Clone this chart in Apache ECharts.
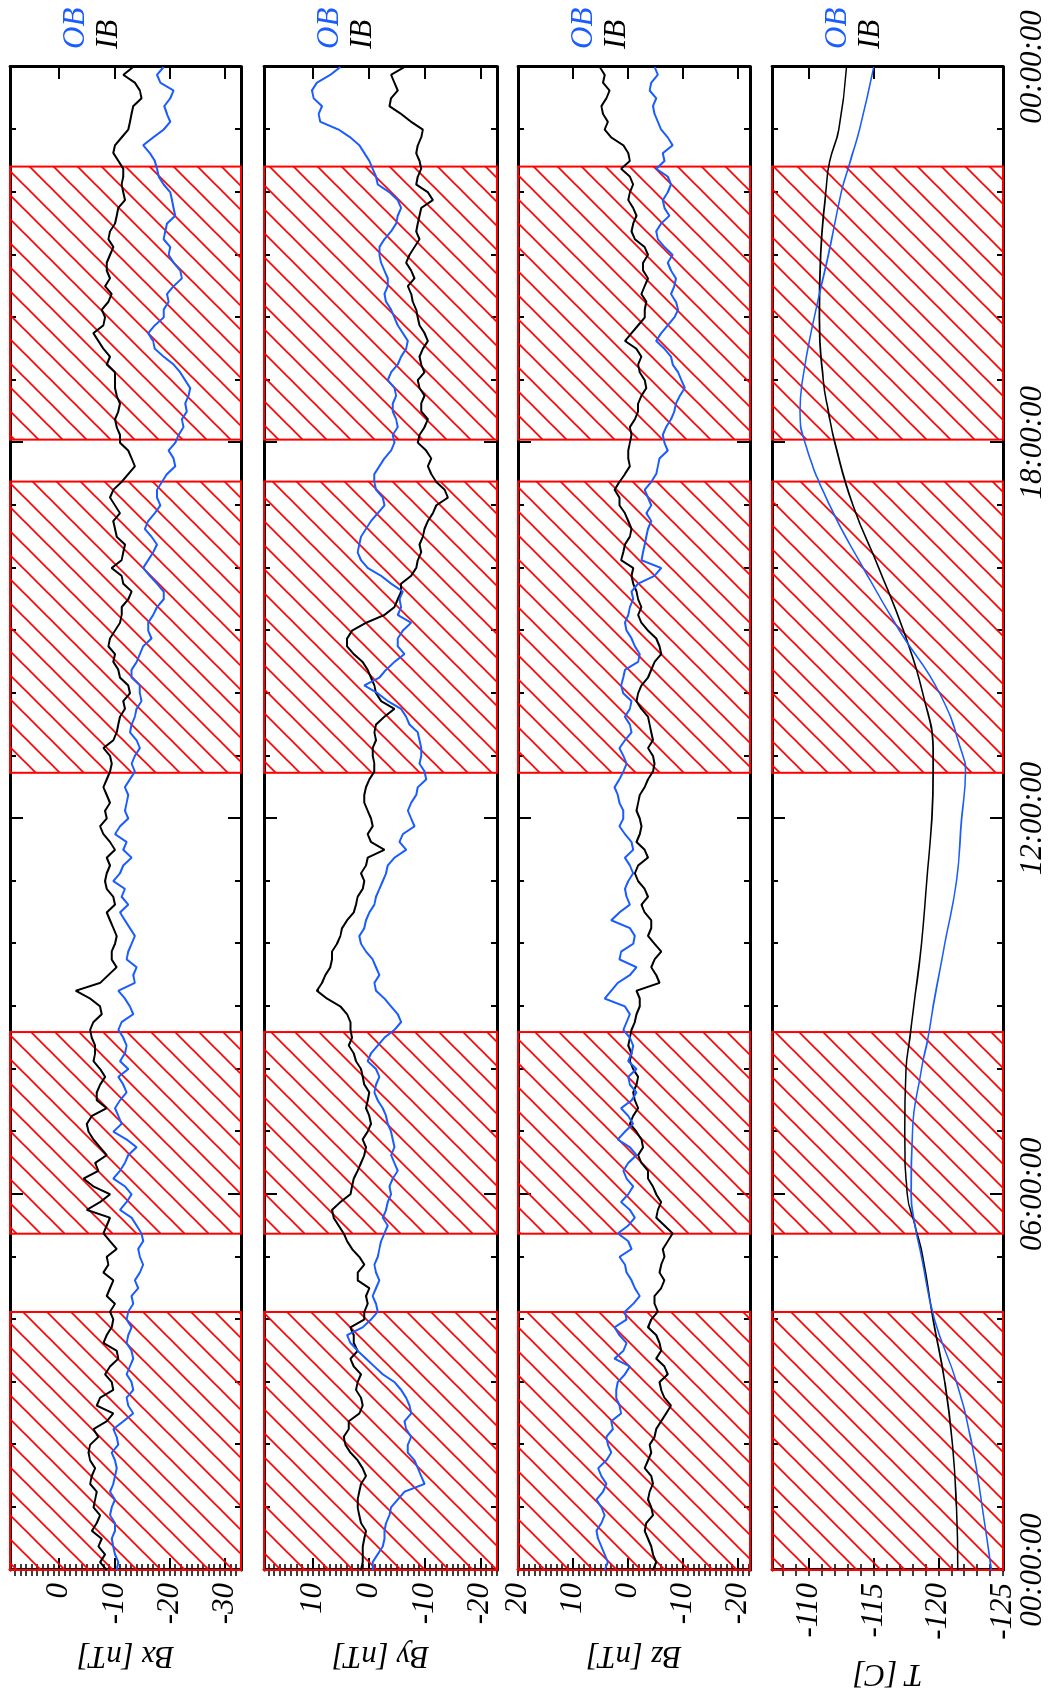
<!DOCTYPE html>
<html><head><meta charset="utf-8">
<script src="https://cdn.jsdelivr.net/npm/echarts@6/dist/echarts.min.js"></script>
<style>
html,body{margin:0;padding:0;width:1053px;height:1697px;overflow:hidden;background:#fff;}
#chart{position:absolute;left:0;top:0;width:1697px;height:1053px;transform-origin:0 0;transform:translateY(1697px) rotate(-90deg);background:#fff;}
</style></head><body><div id="chart"></div>
<script>
// ---------- DATA (time in hours) ----------
// main samples at 00:00, 00:15, ... 24:00 ; mid samples at 00:07:30, 00:22:30, ... 23:52:30
const sampleStepHours = 0.25;
const bxIB = [-8.6,-8.3,-7.7,-6.8,-6.2,-6.8,-5.9,-5.6,-5.6,-6.2,-9.8,-7.4,-9.5,-9.2,-10.4,-8.6,-9.8,-10.1,-9.2,-8.0,-8.6,-9.2,-8.6,-5.0,-9.2,-4.4,-6.5,-7.4,-5.3,-5.9,-6.8,-7.4,-7.4,
  -6.5,-5.9,-6.2,-7.4,-3.0,-8.9,-9.5,-10.1,-9.8,-8.6,-9.8,-8.3,-9.2,-10.1,-8.0,-8.6,-9.2,-8.0,-9.2,-9.2,-9.8,-10.7,-11.9,-12.8,-11.0,-9.8,-8.9,-10.1,-11.3,-12.5,-11.6,-9.5,
  -11.6,-10.4,-9.8,-10.1,-9.8,-12.5,-13.1,-11.0,-10.4,-10.7,-10.4,-10.1,-8.6,-8.0,-6.2,-8.3,-8.9,-8.3,-8.6,-9.2,-8.9,-10.1,-10.7,-11.6,-11.6,-10.7,-10.1,-12.5,-13.1,-14.9,-13.7,-13.4];
const bxIBmid = [-7.4,-7.1,-5.9,-7.4,-6.5,-5.6,-6.5,-5.3,-7.1,-8.6,-6.8,-9.8,-8.3,-10.7,-8.0,-9.5,-9.2,-8.6,-9.8,-8.9,-10.4,-8.0,-9.2,-7.4,-6.2,-7.1,-8.6,-6.2,-5.0,-8.6,-6.8,-8.3,
  -6.2,-6.5,-5.6,-7.7,-5.6,-7.4,-10.4,-9.5,-10.4,-9.2,-10.1,-8.6,-8.6,-8.6,-9.2,-7.4,-8.3,-8.6,-8.6,-9.5,-8.0,-10.4,-11.0,-11.6,-12.5,-10.7,-10.1,-9.2,-11.0,-11.3,-13.1,-11.3,
  -11.3,-11.9,-10.1,-11.0,-9.2,-11.3,-13.7,-12.5,-11.0,-10.1,-11.0,-10.1,-10.1,-9.2,-7.1,-8.0,-7.7,-9.5,-9.2,-8.6,-9.8,-9.2,-10.4,-11.9,-11.3,-11.6,-9.8,-11.3,-12.8,-13.4,-14.6,-11.6];
const bxOB = [-10.4,-10.1,-9.5,-10.1,-9.5,-9.2,-10.1,-10.1,-10.7,-9.8,-13.4,-12.2,-13.1,-12.8,-13.1,-12.5,-12.2,-13.4,-14.3,-14.6,-14.6,-15.2,-14.0,-11.0,-13.1,-9.8,-11.9,-14.0,-9.8,-10.7,-11.0,-11.6,-12.5,
  -11.9,-11.6,-11.3,-12.8,-10.7,-13.4,-12.2,-13.1,-12.8,-11.0,-11.3,-9.8,-11.6,-11.6,-10.1,-12.5,-12.2,-11.9,-13.7,-13.7,-14.0,-13.1,-14.0,-14.6,-13.1,-14.0,-15.2,-16.1,-17.0,-18.9,-17.7,-15.2,
  -17.0,-16.7,-16.1,-18.3,-17.7,-19.5,-20.7,-21.0,-22.5,-23.1,-23.4,-22.8,-20.7,-17.3,-16.1,-18.9,-19.8,-20.7,-21.9,-19.8,-18.9,-19.5,-20.7,-20.1,-18.0,-17.3,-15.2,-18.9,-19.5,-20.1,-18.3,-18.9];
const bxOBmid = [-10.7,-9.8,-10.1,-9.2,-10.1,-9.8,-10.4,-9.5,-10.4,-11.6,-12.5,-13.4,-12.2,-13.4,-12.2,-13.1,-12.5,-13.1,-13.7,-15.2,-14.3,-14.9,-13.1,-12.2,-11.9,-11.0,-12.5,-12.2,-11.3,-10.1,-12.2,-10.7,
  -11.0,-12.2,-10.7,-13.4,-11.9,-13.7,-14.0,-12.5,-13.7,-11.9,-12.5,-11.9,-11.0,-13.1,-12.2,-11.0,-11.9,-12.5,-12.8,-13.1,-14.6,-12.8,-13.7,-14.9,-14.6,-13.1,-14.6,-16.7,-16.1,-17.7,-18.9,-16.4,
  -16.1,-17.7,-15.5,-17.3,-17.7,-18.6,-21.0,-19.8,-21.6,-22.2,-22.8,-23.7,-21.9,-18.9,-17.0,-17.3,-18.9,-19.5,-22.2,-20.7,-20.1,-19.2,-21.0,-20.4,-18.9,-17.7,-16.4,-17.0,-20.1,-19.0,-20.7,-17.7];
const byIB = [1.4,1.1,0.8,1.4,2.0,1.7,0.5,2.0,4.2,3.6,1.7,1.4,2.0,2.7,2.0,2.7,0.8,0.2,-0.1,2.0,1.7,3.9,5.4,6.6,3.3,2.7,1.4,0.5,0.2,-0.1,0.2,0.8,1.4,
  2.7,3.0,3.3,5.1,9.3,7.8,6.6,5.7,4.8,2.7,2.0,0.8,0.5,-2.8,0.2,-0.4,0.8,0.5,-1.0,-0.7,-1.3,-1.3,-4.6,-1.3,-0.4,1.1,3.9,3.0,-2.8,-5.2,-5.8,-8.5,
  -9.4,-9.7,-10.6,-12.1,-13.6,-11.2,-11.2,-8.8,-10.0,-9.4,-10.0,-8.8,-9.4,-9.7,-10.0,-8.8,-7.9,-7.0,-7.6,-7.3,-9.1,-8.8,-9.4,-10.6,-8.8,-9.1,-8.8,-9.7,-5.8,-4.0,-4.6,-6.4];
const byIBmid = [1.1,1.1,0.5,1.7,2.0,1.4,1.1,3.3,4.5,3.6,1.1,2.3,1.4,3.3,2.7,3.3,0.8,0.5,2.0,0.8,3.0,4.5,6.3,5.1,3.0,2.0,0.8,1.1,-0.4,0.5,-0.1,1.1,
  2.3,3.6,3.3,3.9,7.5,8.4,6.9,6.6,5.1,3.9,2.3,1.1,1.4,0.2,-0.4,-0.7,0.2,0.8,-0.1,-1.0,-0.7,-1.0,-2.8,-2.2,-1.0,0.2,2.7,3.9,0.5,-4.6,-5.8,-7.6,
  -8.8,-9.1,-10.0,-11.5,-14.2,-12.1,-10.6,-10.3,-9.1,-10.6,-9.4,-9.1,-10.0,-9.1,-10.6,-9.1,-8.5,-7.6,-8.2,-6.7,-8.2,-8.5,-9.1,-11.5,-8.5,-9.4,-8.5,-9.4,-7.6,-3.7,-5.2,-4.0];
const byOB = [-0.7,-1.6,-2.8,-3.1,-4.0,-6.4,-9.4,-8.2,-7.0,-6.7,-7.6,-6.7,-4.6,-1.0,2.0,3.9,-0.4,-1.3,-1.3,-1.3,-1.6,-2.2,-3.4,-3.1,-4.0,-4.3,-4.6,-4.6,-4.0,-3.1,-1.6,-1.3,-1.3,
  -0.4,-2.8,-5.8,-4.0,-1.3,-1.9,-0.7,1.4,0.8,-0.1,-1.3,-2.5,-3.4,-6.7,-6.1,-7.6,-7.6,-8.8,-10.0,-9.4,-9.1,-7.3,-5.8,-1.6,-1.9,-4.6,-5.2,-6.1,-5.2,-5.5,-4.0,0.2,
  2.0,1.4,-0.4,-2.8,-1.3,-1.0,-2.8,-4.6,-5.2,-4.3,-4.9,-3.4,-5.2,-6.7,-6.1,-4.6,-3.1,-3.4,-2.8,-1.9,-2.8,-4.9,-5.8,-3.7,-1.3,-0.1,1.7,5.4,9.0,9.9,9.3,5.1];
const byOBmid = [-0.7,-2.5,-2.8,-3.7,-5.2,-10.0,-8.8,-7.0,-7.6,-6.4,-7.3,-5.8,-2.5,0.5,3.3,1.1,-1.6,-0.7,-1.9,-1.0,-1.9,-2.8,-2.5,-3.4,-3.7,-5.2,-4.0,-4.3,-3.4,-2.5,-1.0,-1.9,
  0.2,-1.6,-4.6,-5.2,-2.8,-1.0,-1.3,0.5,1.7,0.5,-1.0,-1.9,-3.1,-4.6,-5.5,-8.2,-7.0,-8.5,-10.3,-9.1,-9.4,-8.8,-6.7,-3.4,0.8,-3.1,-6.4,-5.2,-7.6,-5.8,-6.1,-2.2,
  1.4,1.7,0.5,-1.6,-2.5,-1.0,-1.9,-4.0,-4.3,-4.9,-4.3,-4.6,-4.0,-5.8,-7.0,-5.2,-4.0,-2.8,-3.4,-2.2,-1.9,-4.0,-5.2,-5.2,-1.6,-0.7,0.8,3.3,8.7,8.4,10.2,6.9];
const bzIB = [-4.6,-4.6,-3.7,-3.4,-4.3,-4.0,-4.3,-3.7,-4.0,-5.2,-7.0,-6.7,-5.8,-6.7,-6.1,-5.2,-4.3,-4.9,-6.1,-5.8,-6.7,-7.3,-6.7,-5.5,-5.2,-3.7,-2.5,-2.8,-1.6,-1.0,-1.3,-1.6,-1.0,
  -0.7,-0.4,-1.3,-2.2,-1.6,-5.2,-4.9,-4.9,-4.3,-3.1,-3.7,-1.9,-1.9,-3.1,-2.2,-2.2,-1.9,-3.1,-4.6,-4.6,-4.6,-4.0,-2.5,-1.9,-3.7,-4.9,-5.8,-3.7,-1.9,-1.9,-1.0,-1.0,
  0.8,-0.4,-0.1,1.5,2.4,0.5,-0.1,-0.4,-0.4,-1.9,-2.5,-3.1,-1.9,-1.6,-0.7,-3.1,-3.4,-3.1,-2.8,-3.7,-1.3,-1.0,-1.0,-0.4,-0.4,-0.4,0.8,4.2,4.5,3.9,4.5,5.1];
const bzIBmid = [-5.2,-4.3,-3.1,-4.6,-3.7,-4.6,-3.1,-4.3,-4.9,-6.1,-7.9,-6.1,-7.3,-5.2,-5.8,-3.7,-5.5,-4.9,-6.7,-6.1,-6.4,-8.2,-5.2,-6.1,-4.6,-3.7,-1.9,-2.5,-0.4,-1.9,-1.0,-1.9,
  -0.4,-0.1,-0.7,-1.6,-2.2,-5.8,-4.3,-6.1,-3.7,-4.3,-2.5,-3.1,-1.3,-3.7,-1.6,-2.5,-1.6,-2.2,-3.7,-4.9,-3.7,-4.3,-3.7,-1.6,-2.5,-4.3,-6.1,-5.2,-2.5,-2.5,-1.6,-0.7,
  1.2,0.5,-0.7,0.5,1.5,1.5,-0.4,-0.1,-0.7,-1.3,-1.9,-3.4,-2.2,-2.5,0.5,-1.9,-3.1,-2.5,-3.7,-2.8,-3.1,-0.7,-1.6,-0.1,-1.0,1.2,-0.1,3.0,3.6,4.8,3.3,4.2];
const bzOB = [4.2,4.2,5.4,4.8,4.8,4.5,4.8,3.9,3.6,2.7,1.2,2.1,1.8,-0.4,0.8,1.5,0.2,-1.0,-1.3,0.2,1.5,-0.1,-0.1,-0.4,-0.1,0.2,-0.1,-0.4,0.5,-0.1,-0.7,-0.4,-1.6,
  -0.7,-0.4,0.2,0.5,3.0,-0.4,1.5,-1.0,-0.4,1.5,0.2,-0.1,-0.4,-1.0,0.5,0.8,1.5,2.4,0.8,0.8,0.5,-0.4,-0.4,0.8,0.8,-1.9,-1.3,0.2,-0.1,-1.0,-1.9,-6.1,
  -2.8,-3.4,-4.3,-4.3,-3.1,-5.2,-5.8,-6.7,-7.0,-8.5,-9.5,-9.8,-8.2,-6.7,-6.1,-8.5,-8.8,-8.5,-7.9,-8.2,-5.5,-6.1,-6.7,-7.3,-7.3,-6.7,-8.2,-6.1,-4.9,-5.2,-4.3,-4.9];
const bzOBmid = [3.6,4.8,5.7,4.2,5.7,3.9,5.4,3.0,3.9,3.0,1.5,2.1,0.5,2.4,0.2,2.4,0.5,-2.2,-0.7,0.5,-0.7,1.8,-1.3,1.2,-1.0,0.8,-1.6,1.8,-1.0,1.2,-1.6,-0.1,
  -0.1,-1.0,0.8,-0.4,4.2,1.8,-1.6,1.2,-1.3,3.0,-0.4,0.5,-1.0,0.5,-0.7,1.5,0.8,1.8,1.5,0.2,1.5,-0.7,0.5,-0.7,1.2,0.5,-2.2,-0.7,0.5,-0.4,-0.7,-4.9,
  -2.5,-3.1,-3.7,-3.4,-3.7,-4.3,-5.5,-7.3,-6.4,-7.9,-8.8,-10.4,-9.2,-7.9,-5.2,-7.3,-9.2,-7.9,-8.8,-7.3,-6.7,-5.2,-7.6,-6.4,-7.9,-5.2,-6.4,-7.3,-5.5,-4.6,-4.0,-5.5];
const tTimes = [0,1,2,3,4,5,5.5,6,7,8,8.5,9,10,11,12,12.75,13,14,15,16,17,18,18.5,19,20,21,22,22.5,23,24];
const tIB = [-121.5,-121.4,-121.1,-120.5,-119.6,-118.8,-118.2,-117.6,-117.4,-117.5,-117.8,-118.1,-118.7,-119.1,-119.5,-119.6,-119.6,-118.8,-117.3,-115.4,-113.4,-112.0,-111.5,-111.1,-110.8,-110.9,-111.3,-111.6,-112.3,-112.9];
const tOB = [-124.1,-123.4,-122.6,-121.4,-119.7,-118.7,-118.2,-117.9,-118.0,-118.7,-119.2,-119.6,-120.5,-121.4,-121.8,-122.1,-121.9,-120.1,-117.0,-114.2,-111.6,-109.7,-109.3,-109.5,-110.4,-111.5,-112.5,-113.2,-113.9,-115.0];
const hatchStart = [0, 5.37, 12.73, 18.05];
const hatchEnd   = [4.12, 8.59, 17.38, 22.41];
const timeTicks = [0, 6, 12, 18, 24];
const timeTickLabels = ['00:00:00','06:00:00','12:00:00','18:00:00','00:00:00'];
const bxTicks = [0,-10,-20,-30];
const byTicks = [10,0,-10,-20];
const bzTicks = [20,10,0,-10,-20];
const tTicks = [-110,-115,-120,-125];
const legendNames = ['OB','IB'];

// ---------- STYLE / LAYOUT ----------
const BLUE = '#1a5cff';
const RED = '#ff0000';
const FONT = '"Liberation Serif","DejaVu Serif",serif';
const FS = 31;

function bSeries(main, mid){
  const out=[];
  main.forEach((v,i)=>{
    out.push([i*sampleStepHours, v]);
    if (i < mid.length) out.push([i*sampleStepHours + sampleStepHours/2, mid[i]]);
  });
  return out;
}
function tSeries(arr){ return arr.map((v,i)=>[tTimes[i], v]); }
function range(a,b){ const r=[]; for(let v=Math.ceil(a); v<=Math.floor(b); v++) r.push(v); return r; }

const panels = [
  {name:'Bx [nT]', top:10,  height:231, min:-32.9, max:8.9,   majors:bxTicks, ib:bSeries(bxIB,bxIBmid), ob:bSeries(bxOB,bxOBmid), nameGap:70},
  {name:'By [nT]', top:264, height:233, min:-23.0, max:18.8,  majors:byTicks, ib:bSeries(byIB,byIBmid), ob:bSeries(byOB,byOBmid), nameGap:70},
  {name:'Bz [nT]', top:518, height:232, min:-22.3, max:20.0,  majors:bzTicks, ib:bSeries(bzIB,bzIBmid), ob:bSeries(bzOB,bzOBmid), nameGap:70},
  {name:'T [C]',   top:772, height:231, min:-125,  max:-107.14, majors:tTicks, ib:tSeries(tIB), ob:tSeries(tOB), nameGap:88, smooth:true}
];

function makeHatch(){
  const p=24, c=document.createElement('canvas'); c.width=p; c.height=p;
  const g=c.getContext('2d'); g.strokeStyle=RED; g.lineWidth=1.6;
  g.beginPath();
  g.moveTo(-3,p+3); g.lineTo(p+3,-3);
  g.moveTo(-3,3); g.lineTo(3,-3);
  g.moveTo(p-3,p+3); g.lineTo(p+3,p-3);
  g.stroke();
  return c;
}
const hatchImg = makeHatch();
const hatchData = hatchStart.map((s,i)=>[s, hatchEnd[i]]);

const txt = {fontFamily:FONT, fontStyle:'italic', fontSize:FS, color:'#000'};
const grid=[], xAxis=[], yAxis=[], series=[], legend=[];

panels.forEach((p,i)=>{
  grid.push({left:127, right:67, top:p.top, height:p.height, containLabel:false, outerBoundsMode:'none'});
  ['bottom','top'].forEach(pos=>{
    xAxis.push({gridIndex:i, type:'value', min:0, max:24, interval:6, position:pos,
      axisLine:{show:true, onZero:false, lineStyle:{color:'#000', width:3}},
      axisTick:{show:true, inside:true, length:13, lineStyle:{color:'#000', width:2}},
      minorTick:{show:true, splitNumber:6, length:6, lineStyle:{color:'#000', width:2}},
      axisLabel:Object.assign({show:(i===3 && pos==='bottom'), margin:14,
        formatter:(v)=>timeTickLabels[timeTicks.indexOf(v)]}, txt),
      splitLine:{show:false}, minorSplitLine:{show:false}});
  });
  const minors = range(p.min, p.max);
  ['left','right'].forEach(pos=>{
    yAxis.push({gridIndex:i, type:'value', min:p.min, max:p.max, position:pos,
      axisLine:{show:true, onZero:false, lineStyle:{color:'#000', width:3}},
      axisTick:{show:true, inside:true, length:12, customValues:p.majors, lineStyle:{color:'#000', width:2}},
      axisLabel:Object.assign({show:pos==='left', customValues:p.majors, margin:13}, txt),
      splitLine:{show:false},
      name: pos==='left' ? p.name : '', nameLocation:'middle', nameGap:p.nameGap, nameRotate:90,
      nameTextStyle:Object.assign({}, txt)});
    yAxis.push({gridIndex:i, type:'value', min:p.min, max:p.max, position:pos,
      axisLine:{show:false}, axisLabel:{show:false}, splitLine:{show:false},
      axisTick:{show:true, inside:true, length:6, customValues:minors, lineStyle:{color:'#000', width:1.5}}});
  });
  const xi = 2*i, yi = 4*i;
  series.push({type:'custom', xAxisIndex:xi, yAxisIndex:yi, data:hatchData, encode:{x:[0,1]}, z:1, silent:true,
    renderItem:(params, api)=>{
      const cs = params.coordSys;
      const x0 = api.coord([api.value(0), p.min])[0];
      const x1 = api.coord([api.value(1), p.min])[0];
      return {type:'rect', shape:{x:x0, y:cs.y, width:x1-x0, height:cs.height},
        style:{fill:{image:hatchImg, repeat:'repeat'}, stroke:RED, lineWidth:2}};
    }});
  series.push({type:'line', name:'IB', xAxisIndex:xi, yAxisIndex:yi, data:p.ib, showSymbol:false, smooth:!!p.smooth,
    lineStyle:{color:'#000', width:p.smooth?1.6:2}, itemStyle:{color:'#000'}, z:3});
  series.push({type:'line', name:'OB', xAxisIndex:xi, yAxisIndex:yi, data:p.ob, showSymbol:false, smooth:!!p.smooth,
    lineStyle:{color:BLUE, width:p.smooth?1.6:2}, itemStyle:{color:BLUE}, z:4});
  legend.push({orient:'vertical', left:1643, top:p.top+50, itemGap:2, itemWidth:0, itemHeight:0, icon:'none',
    selectedMode:false, padding:0,
    textStyle:{fontFamily:FONT, fontStyle:'italic', fontSize:FS},
    data:[{name:legendNames[0], textStyle:{color:BLUE}}, {name:legendNames[1], textStyle:{color:'#000'}}]});
});

const chart = echarts.init(document.getElementById('chart'), null, {renderer:'canvas', width:1697, height:1053});
chart.setOption({animation:false, backgroundColor:'#fff', grid, xAxis, yAxis, series, legend});
</script></body></html>
